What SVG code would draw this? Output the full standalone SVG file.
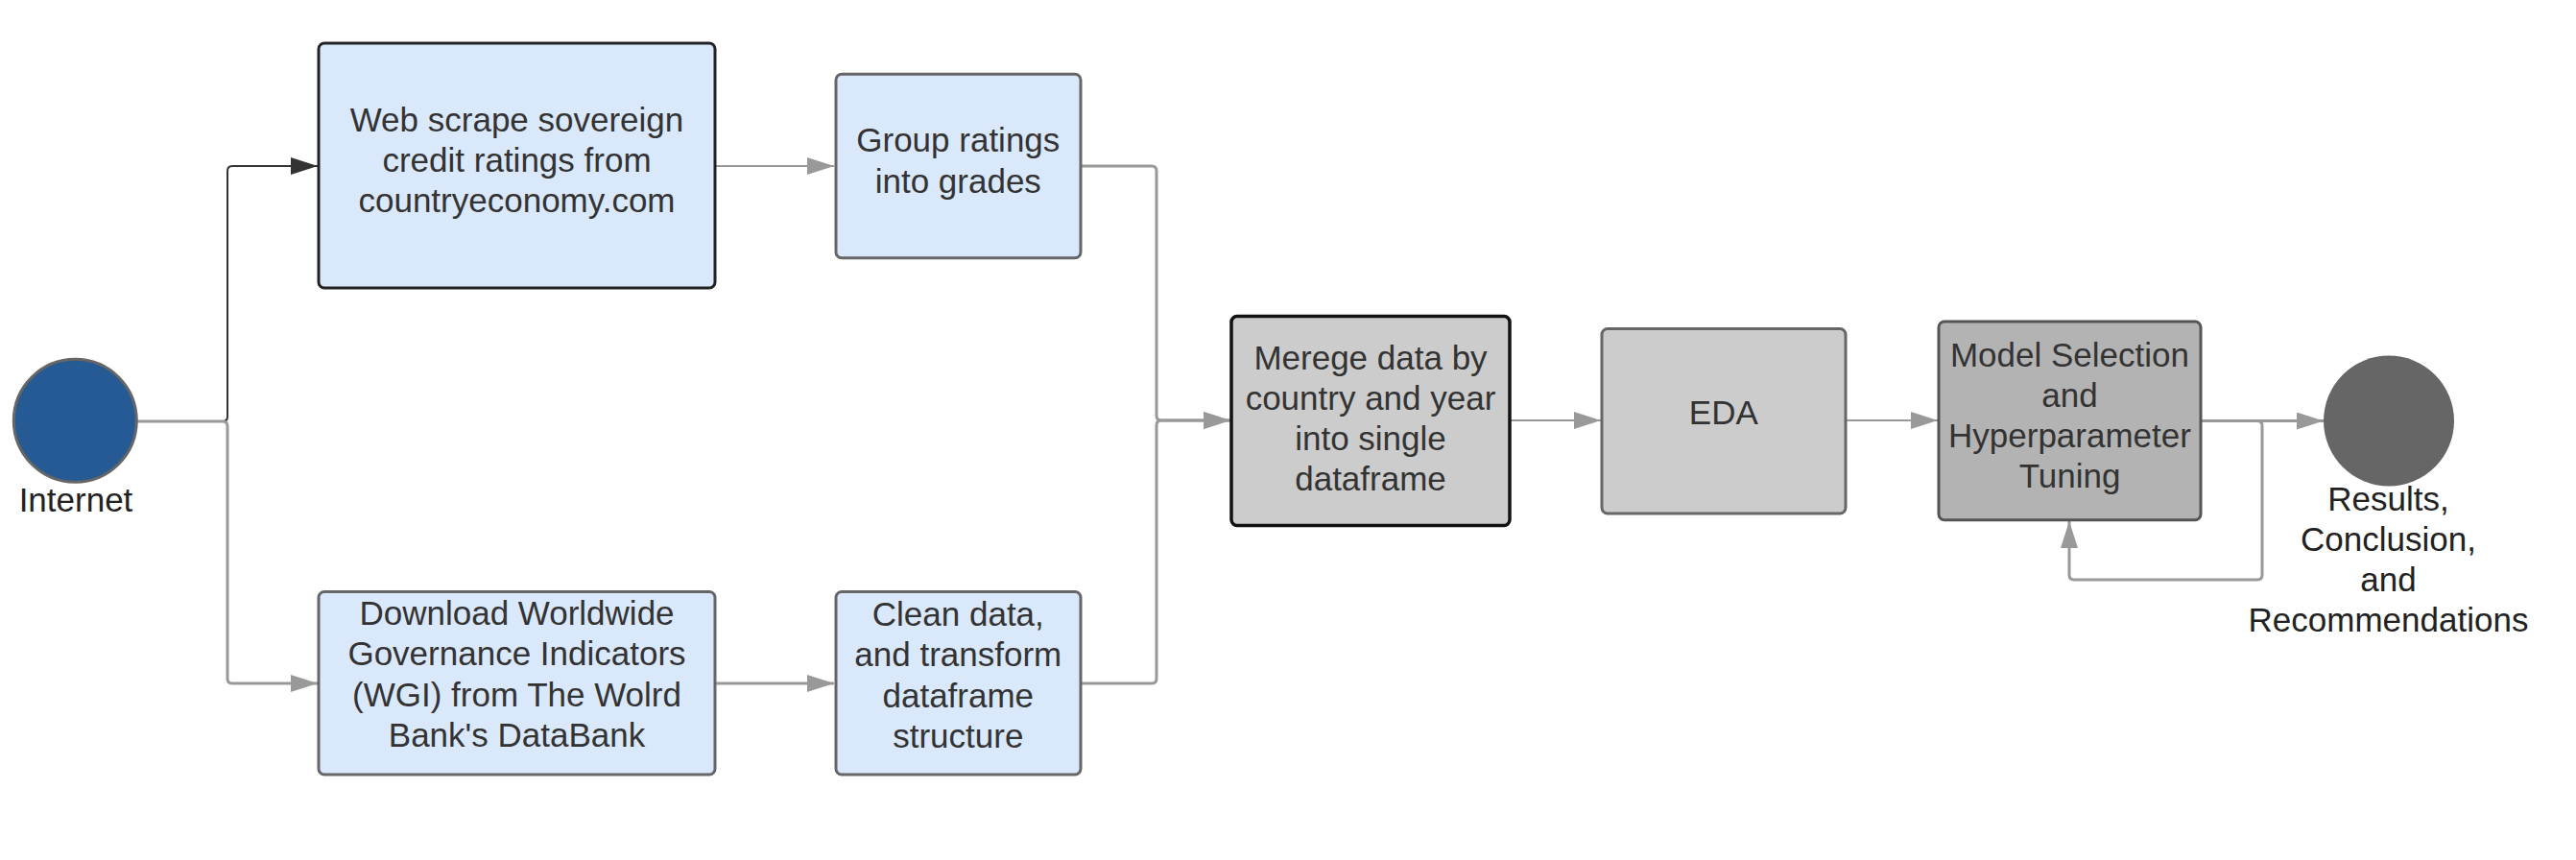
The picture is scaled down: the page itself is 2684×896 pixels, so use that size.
<svg xmlns="http://www.w3.org/2000/svg" width="2684" height="896" viewBox="0 0 2684 896">
<defs>
<style>
.t{font-family:"Liberation Sans",Arial,sans-serif;font-size:35px;fill:#333333;text-anchor:middle}
.lbl{font-family:"Liberation Sans",Arial,sans-serif;font-size:35px;fill:#222222;text-anchor:middle}
.blue{fill:#dae8fc;stroke:#666666;stroke-width:3}
.c{fill:none;stroke:#999999;stroke-width:3}
.c2{fill:none;stroke:#999999;stroke-width:2}
</style>
<marker id="ag" markerUnits="userSpaceOnUse" markerWidth="28" markerHeight="18" refX="28" refY="9" orient="auto">
<path d="M0,0 L28,9 L0,18 z" fill="#999999"/>
</marker>
<marker id="ab" markerUnits="userSpaceOnUse" markerWidth="28" markerHeight="18" refX="28" refY="9" orient="auto">
<path d="M0,0 L28,9 L0,18 z" fill="#333333"/>
</marker>
</defs>
<rect width="2684" height="896" fill="#ffffff"/>
<g id="connectors">
<path d="M142,439 H232 Q237,439 237,434 V178 Q237,173 242,173 H331" fill="none" stroke="#333333" stroke-width="2" marker-end="url(#ab)"/>
<path class="c" d="M142,439 H232 Q237,439 237,444 V707 Q237,712 242,712 H331" marker-end="url(#ag)"/>
<path class="c2" d="M745,173 H869" marker-end="url(#ag)"/>
<path class="c" d="M745,712 H869" marker-end="url(#ag)"/>
<path class="c" d="M1126,173 H1200 Q1205,173 1205,178 V433 Q1205,438 1210,438 H1282" marker-end="url(#ag)"/>
<path class="c" d="M1126,712 H1200 Q1205,712 1205,707 V443 Q1205,438 1210,438 H1282" marker-end="url(#ag)"/>
<path class="c2" d="M1573,438 H1668" marker-end="url(#ag)"/>
<path class="c2" d="M1923,438 H2019" marker-end="url(#ag)"/>
<path class="c" d="M2293,438.5 H2421" marker-end="url(#ag)"/>
<path class="c" d="M2293,438.5 H2352 Q2357,438.5 2357,443.5 V599 Q2357,604 2352,604 H2161 Q2156,604 2156,599 V543" marker-end="url(#ag)"/>
</g>
<g id="internet">
<circle cx="78.3" cy="438.3" r="64" fill="#255a94" stroke="#666666" stroke-width="3"/>
<text class="lbl" x="79" y="533">Internet</text>
</g>
<g id="webscrape">
<rect x="332" y="45" width="413" height="255" rx="6" fill="#dae8fc" stroke="#222222" stroke-width="3"/>
<text class="t" x="538.5" y="136.7">Web scrape sovereign</text>
<text class="t" x="538.5" y="178.7">credit ratings from</text>
<text class="t" x="538.5" y="220.7">countryeconomy.com</text>
</g>
<g id="group">
<rect class="blue" x="871" y="77.3" width="255" height="191.4" rx="6"/>
<text class="t" x="998.3" y="158.3">Group ratings</text>
<text class="t" x="998.3" y="200.5">into grades</text>
</g>
<g id="download">
<rect class="blue" x="332" y="616.5" width="413" height="190.5" rx="6"/>
<text class="t" x="538.5" y="651">Download Worldwide</text>
<text class="t" x="538.5" y="693.3">Governance Indicators</text>
<text class="t" x="538.5" y="735.6">(WGI) from The Wolrd</text>
<text class="t" x="538.5" y="778">Bank's DataBank</text>
</g>
<g id="clean">
<rect class="blue" x="871" y="616.5" width="255" height="190.5" rx="6"/>
<text class="t" x="998.3" y="652.2">Clean data,</text>
<text class="t" x="998.3" y="694.3">and transform</text>
<text class="t" x="998.3" y="736.5">dataframe</text>
<text class="t" x="998.3" y="778.5">structure</text>
</g>
<g id="merge">
<rect x="1283" y="329.5" width="290" height="218" rx="6" fill="#cccccc" stroke="#111111" stroke-width="3.5"/>
<text class="t" x="1428" y="385">Merege data by</text>
<text class="t" x="1428" y="426.9">country and year</text>
<text class="t" x="1428" y="468.8">into single</text>
<text class="t" x="1428" y="510.7">dataframe</text>
</g>
<g id="eda">
<rect x="1669" y="342.5" width="254" height="192.5" rx="6" fill="#cccccc" stroke="#666666" stroke-width="3"/>
<text class="t" x="1795.8" y="442.3">EDA</text>
</g>
<g id="model">
<rect x="2020" y="335" width="273" height="206.7" rx="6" fill="#b3b3b3" stroke="#555555" stroke-width="3"/>
<text class="t" x="2156.5" y="382.3">Model Selection</text>
<text class="t" x="2156.5" y="424.3">and</text>
<text class="t" x="2156.5" y="466.3">Hyperparameter</text>
<text class="t" x="2156.5" y="508.3">Tuning</text>
</g>
<g id="results">
<circle cx="2489" cy="438.5" r="68" fill="#666666"/>
<text class="lbl" x="2488.5" y="531.7">Results,</text>
<text class="lbl" x="2488.5" y="573.9">Conclusion,</text>
<text class="lbl" x="2488.5" y="616.1">and</text>
<text class="lbl" x="2488.5" y="658.3">Recommendations</text>
</g>
</svg>
